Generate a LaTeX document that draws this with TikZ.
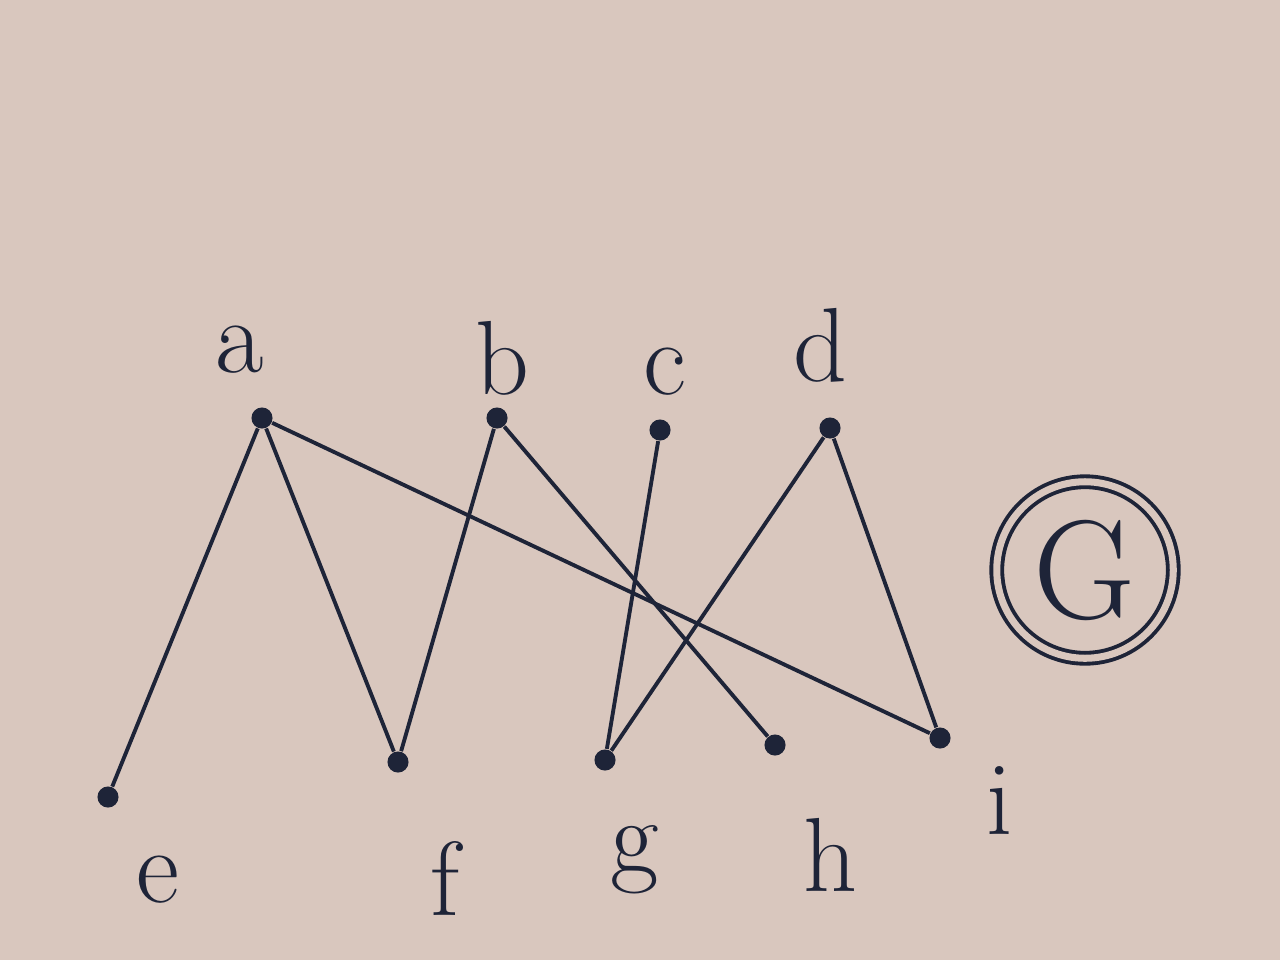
\documentclass[tikz,border=0pt]{standalone}
\usepackage{xcolor}
\definecolor{paper-bg}{HTML}{D9C7BE}
\definecolor{ink}{HTML}{1E2438}

\begin{document}
\begin{tikzpicture}[
      every node/.style={font=\fontsize{30}{34}\selectfont, text=ink},
      vertex/.style={circle, fill=ink, inner sep=0pt, minimum size=6pt},
      edge/.style={draw=ink, line width=1.1pt}]
    \fill[paper-bg] (0,0) rectangle (12.8,9.6);
    \useasboundingbox (0,0) rectangle (12.8,9.6);
    % top row
    \node[vertex] (a) at (2.62,5.42) {};
    \node[vertex] (b) at (4.97,5.42) {};
    \node[vertex] (c) at (6.60,5.30) {};
    \node[vertex] (d) at (8.30,5.32) {};
    % bottom row
    \node[vertex] (e) at (1.08,1.63) {};
    \node[vertex] (f) at (3.98,1.98) {};
    \node[vertex] (g) at (6.05,2.00) {};
    \node[vertex] (h) at (7.75,2.15) {};
    \node[vertex] (i) at (9.40,2.22) {};
    % labels
    \node (la) at (2.40,6.10) {a};
    \node (lb) at (5.02,6.02) {b};
    \node (lc) at (6.65,5.88) {c};
    \node (ld) at (8.20,6.15) {d};
    \node (le) at (1.58,0.80) {e};
    \node (lf) at (4.45,0.82) {f};
    \node (lg) at (6.35,1.00) {g};
    \node (lh) at (8.30,1.05) {h};
    \node (li) at (10.00,1.60) {i};
    % edges
    \draw[edge] (a) -- (e);
    \draw[edge] (a) -- (f);
    \draw[edge] (a) -- (i);
    \draw[edge] (b) -- (f);
    \draw[edge] (b) -- (h);
    \draw[edge] (c) -- (g);
    \draw[edge] (d) -- (g);
    \draw[edge] (d) -- (i);
    % graph name
    \node[circle, draw=ink, line width=1.1pt, double=paper-bg, double distance=2pt,
          minimum size=1.45cm, font=\fontsize{40}{44}\selectfont] (G) at (10.85,3.90) {G};
  \end{tikzpicture}
\end{document}
